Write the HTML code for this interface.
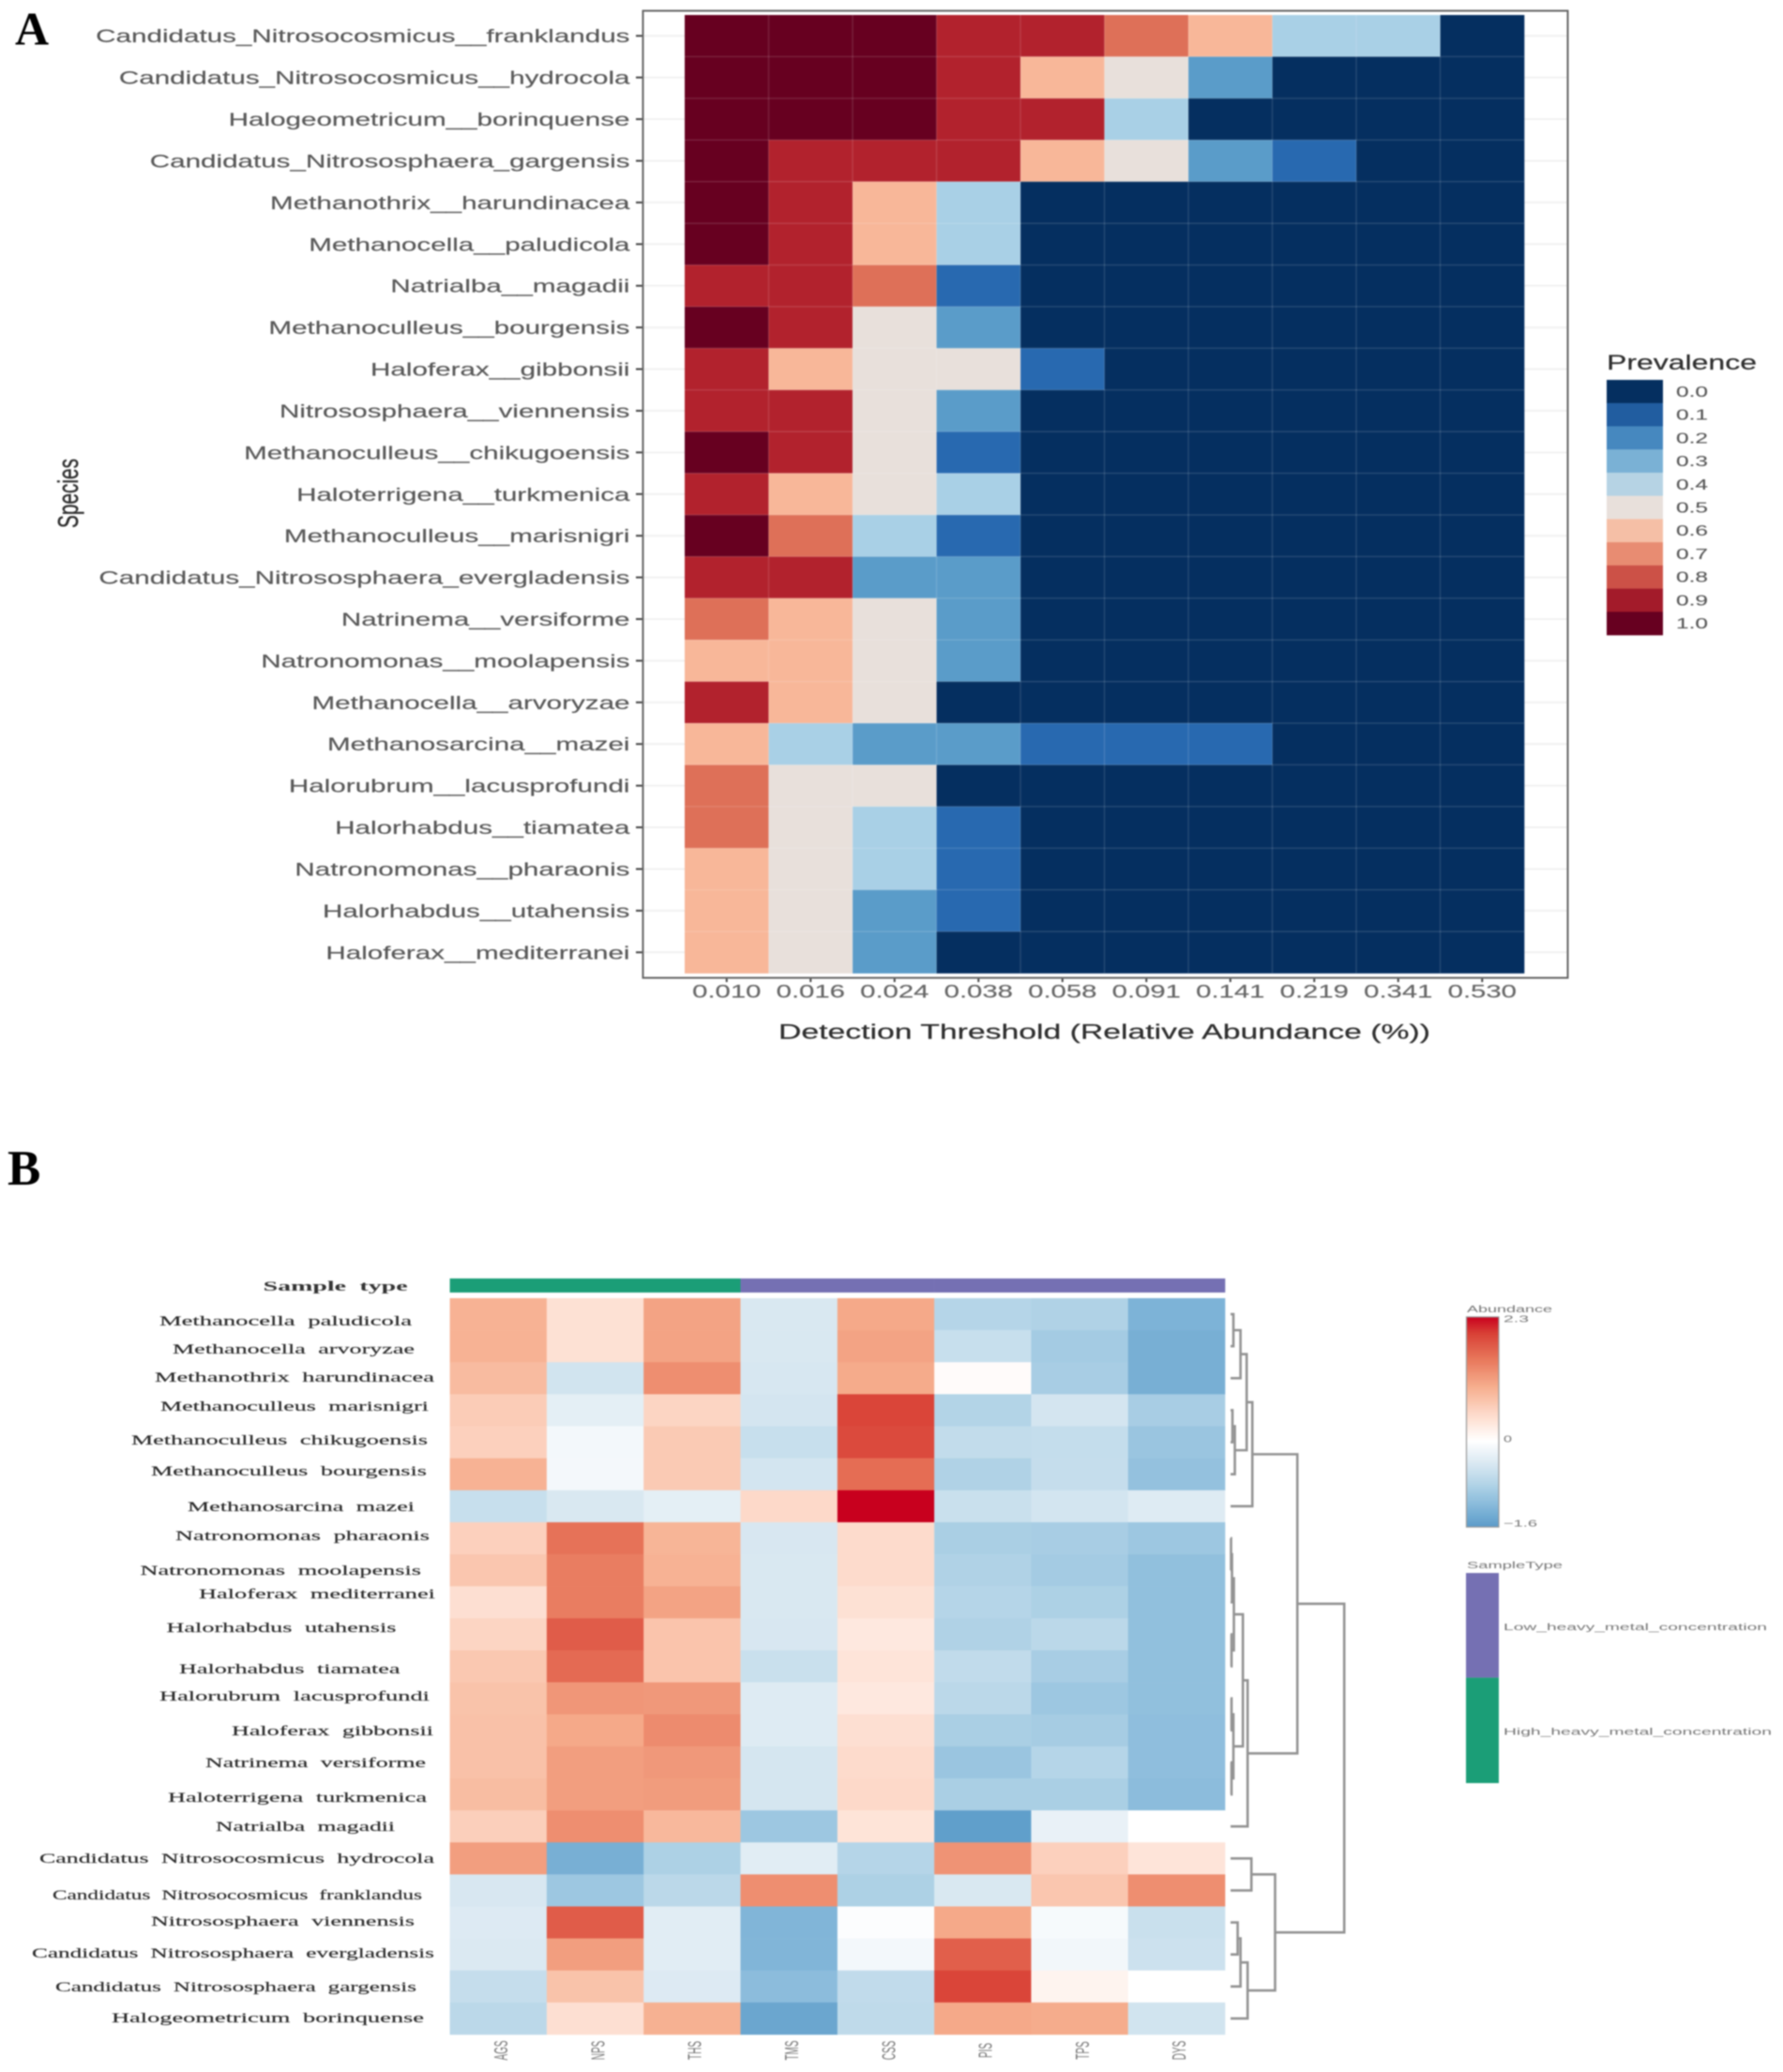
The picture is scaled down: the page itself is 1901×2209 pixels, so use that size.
<!DOCTYPE html>
<html lang="en">
<head>
<meta charset="utf-8">
<title>Species prevalence and abundance heatmaps</title>
<style>
html,body{margin:0;padding:0;background:#fff;width:1901px;height:2209px;overflow:hidden}
#figure{display:block;filter:blur(0.9px)}
text{font-family:"Liberation Sans",sans-serif}
.serif{font-family:"Liberation Serif",serif}
.rowb{font-family:"Liberation Serif",serif;font-size:15px;fill:#2a2a2a;stroke:#2a2a2a;stroke-width:.15;word-spacing:4px}
.legb{font-size:10px;fill:#777}
</style>
</head>
<body>
<svg id="figure" xmlns="http://www.w3.org/2000/svg" width="1901" height="2209" viewBox="0 0 1901 2209">
  <rect width="1901" height="2209" fill="#fff"/>
  <defs><linearGradient id="abundance-gradient" x1="0" y1="1" x2="0" y2="0"></linearGradient></defs>

  <text class="serif" x="16" y="47.5" font-size="50" font-weight="700" fill="#000">A</text>
  <text class="serif" x="8" y="1263" font-size="53" font-weight="700" fill="#000">B</text>

  <g id="panelA"></g>
  <text x="830" y="1107.5" font-size="22" fill="#2e2e2e" stroke="#2e2e2e" stroke-width=".2" textLength="695" lengthAdjust="spacingAndGlyphs">Detection Threshold (Relative Abundance (%))</text>
  <text transform="translate(83,526) scale(1.45,1) rotate(-90)" text-anchor="middle" font-size="20.8" fill="#2e2e2e" stroke="#2e2e2e" stroke-width=".25">Species</text>
  <text x="1713" y="394" font-size="22" fill="#2e2e2e" stroke="#2e2e2e" stroke-width=".2" textLength="160" lengthAdjust="spacingAndGlyphs">Prevalence</text>
  <g id="legendA"></g>

  <text class="serif" x="280.6" y="1376" font-size="15" font-weight="700" fill="#333" word-spacing="4" textLength="154" lengthAdjust="spacingAndGlyphs">Sample type</text>
  <g id="annot"></g>
  <g id="panelB"></g>
  <g id="dendro"></g>

  <g>
    <text class="rowb" x="170" y="1413" textLength="269" lengthAdjust="spacingAndGlyphs">Methanocella paludicola</text>
    <text class="rowb" x="184" y="1443" textLength="258" lengthAdjust="spacingAndGlyphs">Methanocella arvoryzae</text>
    <text class="rowb" x="165" y="1473" textLength="298" lengthAdjust="spacingAndGlyphs">Methanothrix harundinacea</text>
    <text class="rowb" x="171" y="1504" textLength="286" lengthAdjust="spacingAndGlyphs">Methanoculleus marisnigri</text>
    <text class="rowb" x="140" y="1540" textLength="316" lengthAdjust="spacingAndGlyphs">Methanoculleus chikugoensis</text>
    <text class="rowb" x="161" y="1573" textLength="294" lengthAdjust="spacingAndGlyphs">Methanoculleus bourgensis</text>
    <text class="rowb" x="200" y="1611" textLength="242" lengthAdjust="spacingAndGlyphs">Methanosarcina mazei</text>
    <text class="rowb" x="187" y="1642" textLength="271" lengthAdjust="spacingAndGlyphs">Natronomonas pharaonis</text>
    <text class="rowb" x="149.5" y="1679" textLength="299.5" lengthAdjust="spacingAndGlyphs">Natronomonas moolapensis</text>
    <text class="rowb" x="212" y="1704" textLength="252" lengthAdjust="spacingAndGlyphs">Haloferax mediterranei</text>
    <text class="rowb" x="177.5" y="1740" textLength="245" lengthAdjust="spacingAndGlyphs">Halorhabdus utahensis</text>
    <text class="rowb" x="191" y="1784" textLength="235.5" lengthAdjust="spacingAndGlyphs">Halorhabdus tiamatea</text>
    <text class="rowb" x="170" y="1813" textLength="288" lengthAdjust="spacingAndGlyphs">Halorubrum lacusprofundi</text>
    <text class="rowb" x="247" y="1850" textLength="215" lengthAdjust="spacingAndGlyphs">Haloferax gibbonsii</text>
    <text class="rowb" x="219" y="1884" textLength="235" lengthAdjust="spacingAndGlyphs">Natrinema versiforme</text>
    <text class="rowb" x="179" y="1921" textLength="276" lengthAdjust="spacingAndGlyphs">Haloterrigena turkmenica</text>
    <text class="rowb" x="230" y="1952" textLength="191" lengthAdjust="spacingAndGlyphs">Natrialba magadii</text>
    <text class="rowb" x="42" y="1986" textLength="421" lengthAdjust="spacingAndGlyphs">Candidatus Nitrosocosmicus hydrocola</text>
    <text class="rowb" x="56" y="2025" textLength="394" lengthAdjust="spacingAndGlyphs">Candidatus Nitrosocosmicus franklandus</text>
    <text class="rowb" x="161" y="2053" textLength="281" lengthAdjust="spacingAndGlyphs">Nitrososphaera viennensis</text>
    <text class="rowb" x="34" y="2087" textLength="429" lengthAdjust="spacingAndGlyphs">Candidatus Nitrososphaera evergladensis</text>
    <text class="rowb" x="59" y="2123" textLength="385" lengthAdjust="spacingAndGlyphs">Candidatus Nitrososphaera gargensis</text>
    <text class="rowb" x="119" y="2156" textLength="333" lengthAdjust="spacingAndGlyphs">Halogeometricum borinquense</text>
  </g>

  <g id="colorbar"></g>
  <text class="legb" x="1564" y="1399" textLength="91" lengthAdjust="spacingAndGlyphs">Abundance</text>
  <text class="legb" x="1564" y="1672" textLength="102" lengthAdjust="spacingAndGlyphs">SampleType</text>
  <rect x="1563" y="1677" width="35" height="111.6" fill="#7570b3"/>
  <rect x="1563" y="1788.6" width="35" height="112.4" fill="#1b9e77"/>
  <text class="legb" x="1603" y="1738" textLength="281" lengthAdjust="spacingAndGlyphs">Low_heavy_metal_concentration</text>
  <text class="legb" x="1603" y="1849.5" textLength="286" lengthAdjust="spacingAndGlyphs">High_heavy_metal_concentration</text>
</svg>

<script>
// ---------- Panel A data ----------
const speciesA = ["Candidatus_Nitrosocosmicus__franklandus","Candidatus_Nitrosocosmicus__hydrocola","Halogeometricum__borinquense","Candidatus_Nitrososphaera_gargensis","Methanothrix__harundinacea","Methanocella__paludicola","Natrialba__magadii","Methanoculleus__bourgensis","Haloferax__gibbonsii","Nitrososphaera__viennensis","Methanoculleus__chikugoensis","Haloterrigena__turkmenica","Methanoculleus__marisnigri","Candidatus_Nitrososphaera_evergladensis","Natrinema__versiforme","Natronomonas__moolapensis","Methanocella__arvoryzae","Methanosarcina__mazei","Halorubrum__lacusprofundi","Halorhabdus__tiamatea","Natronomonas__pharaonis","Halorhabdus__utahensis","Haloferax__mediterranei"];
const thresholds = ["0.010","0.016","0.024","0.038","0.058","0.091","0.141","0.219","0.341","0.530"];
const prevalence = [
[1,1,1,.875,.875,.75,.625,.375,.375,0],
[1,1,1,.875,.625,.5,.25,0,0,0],
[1,1,1,.875,.875,.375,0,0,0,0],
[1,.875,.875,.875,.625,.5,.25,.125,0,0],
[1,.875,.625,.375,0,0,0,0,0,0],
[1,.875,.625,.375,0,0,0,0,0,0],
[.875,.875,.75,.125,0,0,0,0,0,0],
[1,.875,.5,.25,0,0,0,0,0,0],
[.875,.625,.5,.5,.125,0,0,0,0,0],
[.875,.875,.5,.25,0,0,0,0,0,0],
[1,.875,.5,.125,0,0,0,0,0,0],
[.875,.625,.5,.375,0,0,0,0,0,0],
[1,.75,.375,.125,0,0,0,0,0,0],
[.875,.875,.25,.25,0,0,0,0,0,0],
[.75,.625,.5,.25,0,0,0,0,0,0],
[.625,.625,.5,.25,0,0,0,0,0,0],
[.875,.625,.5,0,0,0,0,0,0,0],
[.625,.375,.25,.25,.125,.125,.125,0,0,0],
[.75,.5,.5,0,0,0,0,0,0,0],
[.75,.5,.375,.125,0,0,0,0,0,0],
[.625,.5,.375,.125,0,0,0,0,0,0],
[.625,.5,.25,.125,0,0,0,0,0,0],
[.625,.5,.25,0,0,0,0,0,0,0]
];
const prevalenceTicks = [0,.1,.2,.3,.4,.5,.6,.7,.8,.9,1];

// ---------- Panel B data ----------
const samples = ["AGS","NPS","THS","TMS","CSS","PIS","TPS","DYS"];
const sampleGroups = ["High","High","High","Low","Low","Low","Low","Low"];
const abundance = [
[.95,.4,1.1,-.42,1.05,-.78,-.83,-1.28],
[.95,.4,1.1,-.42,1.1,-.6,-.93,-1.33],
[.85,-.5,1.3,-.44,1.03,.05,-.9,-1.33],
[.65,-.3,.55,-.47,1.95,-.8,-.47,-.9],
[.6,-.13,.68,-.6,1.9,-.65,-.63,-1.02],
[.95,-.12,.68,-.48,1.6,-.83,-.62,-1.08],
[-.6,-.42,-.3,.5,2.3,-.58,-.48,-.37],
[.6,1.55,.92,-.43,.47,-.88,-.9,-1],
[.72,1.45,.95,-.42,.47,-.83,-.93,-1.1],
[.42,1.45,1.1,-.42,.4,-.78,-.85,-1.1],
[.55,1.75,.75,-.43,.3,-.83,-.72,-1.1],
[.7,1.62,.75,-.58,.35,-.66,-.9,-1.1],
[.76,1.22,1.2,-.37,.3,-.72,-1,-1.1],
[.78,1.05,1.32,-.37,.42,-.88,-.92,-1.12],
[.78,1.15,1.2,-.46,.47,-1.02,-.78,-1.12],
[.83,1.15,1.17,-.46,.5,-.88,-.88,-1.15],
[.62,1.3,.88,-1,.36,-1.55,-.25,0],
[1.15,-1.33,-.85,-.33,-.78,1.25,.6,.35],
[-.43,-1,-.72,1.3,-.85,-.42,.72,1.3],
[-.38,1.75,-.33,-1.25,-.03,1.05,-.1,-.58],
[-.4,1.15,-.33,-1.25,-.13,1.72,-.15,-.55],
[-.62,.76,-.38,-1.15,-.66,1.95,.15,0],
[-.72,.42,.97,-1.45,-.68,1.05,1.02,-.5]
];
const abundanceTicks = [2.3,0,-1.6];
// Nested merges: [height, childA, childB]; a number is a leaf row index.
const rowTree = [12,
  [7.05,
    [2.3,
      [1.7,
        [1.05,[.3,0,1],2],
        [.45,[.2,3,4],5]
      ],
      6
    ],
    [1.8,
      [1.3,
        [.35,[.15,[.05,7,8],9],[.1,10,11]],
        [.3,[.1,12,13],[.1,14,15]]
      ],
      16
    ]
  ],
  [4.7,
    [2.2,17,18],
    [1.8,[1.05,[.75,19,20],21],22]
  ]
];

// ---------- Colour scales ----------
const prevalenceDomain = [0,.125,.25,.375,.5,.625,.75,.875,1];
const prevalenceRange = ["#052f60","#2869b0","#5a9cc9","#a9d0e6","#e8e0db","#f8b799","#de7058","#b2222d","#670020"];
const abundanceDomain = [-1.6,-1.2,-.8,-.4,0,.5,1,1.5,2,2.3];
const abundanceRange = ["#5b9bc9","#86b9da","#b3d4e7","#dbe9f2","#ffffff","#fdd9c9","#f6ae8e","#e8785c","#d83f35","#c8001e"];

function hexToRgb(h){return [1,3,5].map(function(i){return parseInt(h.substr(i,2),16);});}
function ramp(domain,range,v){
  if(v<=domain[0])return range[0];
  for(var i=1;i<domain.length;i++){
    if(v<=domain[i]){
      var t=(v-domain[i-1])/(domain[i]-domain[i-1]);
      var a=hexToRgb(range[i-1]),b=hexToRgb(range[i]);
      return 'rgb('+a.map(function(c,k){return Math.round(c+(b[k]-c)*t);}).join(',')+')';
    }
  }
  return range[range.length-1];
}

// ---------- Helpers ----------
const NS='http://www.w3.org/2000/svg';
function make(parent,tag,attrs,txt){
  var e=document.createElementNS(NS,tag);
  for(var k in attrs)e.setAttribute(k,attrs[k]);
  if(txt!==undefined)e.textContent=txt;
  parent.appendChild(e);
  return e;
}

// ---------- Panel A axes ----------
const ax={left:730,right:1625,top:16,bottom:1037.5};
function xA(i){return ax.left+i*(ax.right-ax.left)/thresholds.length;}
function yA(j){return ax.top+j*(ax.bottom-ax.top)/speciesA.length;}
const gA=document.getElementById('panelA');

speciesA.forEach(function(s,j){
  var cy=(yA(j)+yA(j+1))/2;
  var gl=make(gA,'line',{x1:686,x2:1671,y1:cy,y2:cy,stroke:'#f1f1f1','stroke-width':2});
  
  
  var tk=make(gA,'line',{x1:678,x2:685,y1:cy,y2:cy,stroke:'#444','stroke-width':2});
  
  
  var lb=make(gA,'text',{transform:'translate(671.5,'+(cy+7)+') scale(1.5,1)','text-anchor':'end','font-size':19.75,fill:'#585858',stroke:'#585858','stroke-width':.15},s);
  
  
});

prevalence.forEach(function(row,j){
  row.forEach(function(v,i){
    var c=make(gA,'rect',{x:xA(i),y:yA(j),width:xA(i+1)-xA(i)+.3,height:yA(j+1)-yA(j)+.3,fill:ramp(prevalenceDomain,prevalenceRange,v)});
    
    
  });
});
for(var gi=1;gi<thresholds.length;gi++){
  var vl=make(gA,'line',{x1:xA(gi),x2:xA(gi),y1:ax.top,y2:ax.bottom,stroke:'rgba(255,255,255,.12)','stroke-width':1.5});
  
  
}
for(var gj=1;gj<speciesA.length;gj++){
  var hl=make(gA,'line',{x1:ax.left,x2:ax.right,y1:yA(gj),y2:yA(gj),stroke:'rgba(255,255,255,.12)','stroke-width':1.5});
  
  
}
thresholds.forEach(function(t,i){
  var cx=(xA(i)+xA(i+1))/2;
  var tk=make(gA,'line',{x1:cx,x2:cx,y1:1043,y2:1047,stroke:'#444','stroke-width':2});
  
  
  var lb=make(gA,'text',{transform:'translate('+cx+',1063.5) scale(1.5,1)','text-anchor':'middle','font-size':19.5,fill:'#666',stroke:'#666','stroke-width':.15},t);
  
  
});
var frame=make(gA,'rect',{x:685.5,y:11.5,width:986,height:1031,fill:'none',stroke:'#666','stroke-width':2});



// ---------- Panel A legend ----------
const gL=document.getElementById('legendA');
prevalenceTicks.forEach(function(v,i){
  var step=(677-405)/prevalenceTicks.length;
  var y=405+i*step;
  var k=make(gL,'rect',{x:1713,y:y,width:60,height:step+.3,fill:ramp(prevalenceDomain,prevalenceRange,v)});
  
  
  var t=make(gL,'text',{transform:'translate(1787,'+(y+step/2+5.5)+') scale(1.53,1)','font-size':16,fill:'#555',stroke:'#555','stroke-width':.1},v.toFixed(1));
  
  
});

// ---------- Panel B axes ----------
const bx={left:479.6,right:1306,top:1384,bottom:2169};
function xB(i){return bx.left+i*(bx.right-bx.left)/samples.length;}
function yB(j){return bx.top+j*(bx.bottom-bx.top)/abundance.length;}
const gB=document.getElementById('panelB');
abundance.forEach(function(row,j){
  row.forEach(function(v,i){
    var c=make(gB,'rect',{x:xB(i),y:yB(j),width:xB(i+1)-xB(i)+.3,height:yB(j+1)-yB(j)+.3,fill:ramp(abundanceDomain,abundanceRange,v)});
    
    
  });
});
samples.forEach(function(s,i){
  var cx=(xB(i)+xB(i+1))/2+2.5;
  var t=make(gB,'text',{transform:'translate('+(cx+7.3)+',2186) scale(2,1) rotate(-90)','text-anchor':'middle','font-size':10,fill:'#777'},s);
  
  
});

const gN=document.getElementById('annot');
sampleGroups.forEach(function(g,i){
  var r=make(gN,'rect',{x:xB(i),y:1363,width:xB(i+1)-xB(i)+.3,height:15,fill:g==='High'?'#1b9e77':'#7570b3'});
  
  
});

// ---------- Dendrogram ----------
const gD=document.getElementById('dendro');
function xD(h){return 1312+h*10.1;}
function layout(node){
  if(typeof node==='number')return {x:xD(0),y:(yB(node)+yB(node+1))/2};
  var a=layout(node[1]),b=layout(node[2]);
  var x=xD(node[0]);
  var p=make(gD,'path',{d:'M'+a.x+' '+a.y+'H'+x+'V'+b.y+'H'+b.x,fill:'none',stroke:'#939393','stroke-width':2.6});
  
  
  return {x:x,y:(a.y+b.y)/2};
}
layout(rowTree);

// ---------- Colour bar ----------
const grad=document.getElementById('abundance-gradient');
const barMin=abundanceDomain[0],barMax=abundanceDomain[abundanceDomain.length-1];
abundanceDomain.forEach(function(v,i){
  make(grad,'stop',{offset:((v-barMin)/(barMax-barMin)*100)+'%','stop-color':abundanceRange[i]});
});
const gC=document.getElementById('colorbar');
var cbar=make(gC,'rect',{x:1563.5,y:1404,width:34.5,height:224,fill:'url(#abundance-gradient)',stroke:'#999','stroke-width':1.2});


function yC(v){
  return v>=0 ? 1534-(v/barMax)*128 : 1534+(v/barMin)*90;
}
abundanceTicks.forEach(function(v){
  var label=(v<0?'\u2212':'')+Math.abs(v);
  var t=make(gC,'text',{x:1603,y:yC(v)+3.5,'font-size':10,fill:'#777',textLength:(label.length*9),lengthAdjust:'spacingAndGlyphs'},label);
  
  
});
</script>
</body>
</html>
